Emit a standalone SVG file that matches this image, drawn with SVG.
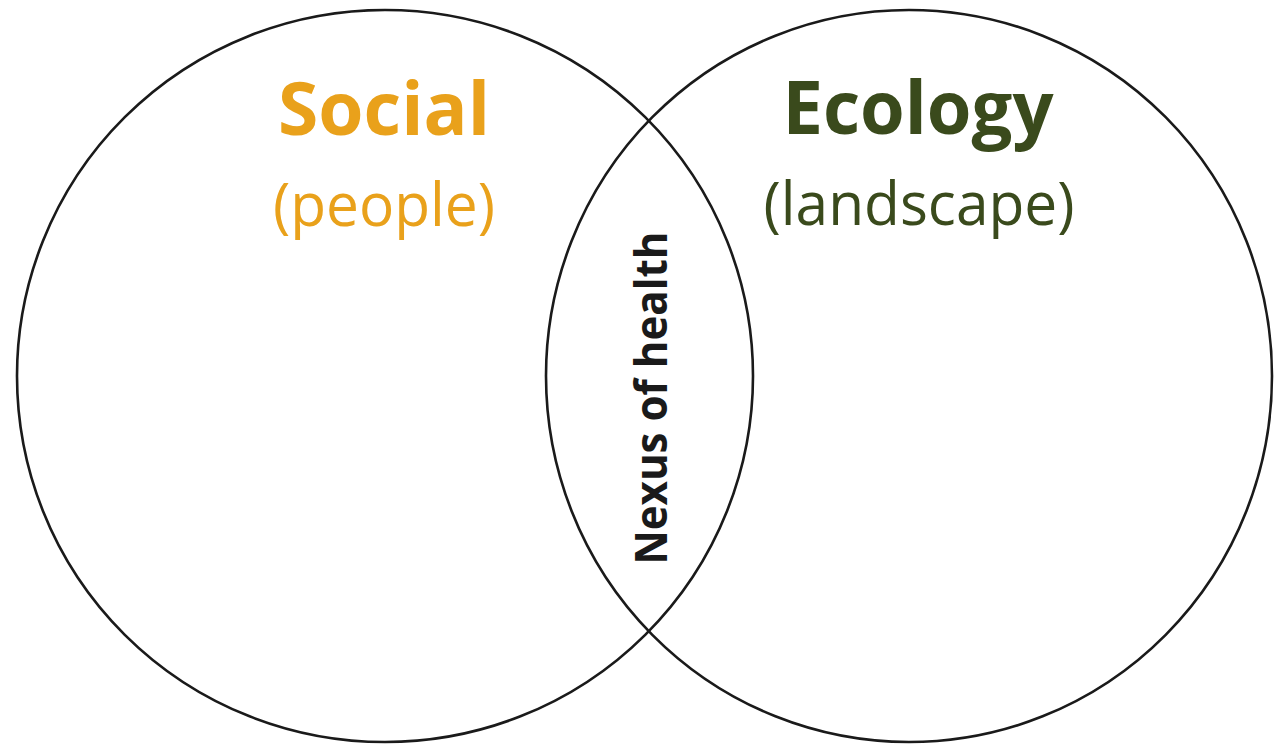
<svg xmlns="http://www.w3.org/2000/svg" width="1274" height="745" viewBox="0 0 1274 745">
  <style>
    .ring { fill: none; stroke: #1a1a1a; stroke-width: 2.6; }
    .title { font-family: "Open Sans", "Liberation Sans", sans-serif; font-weight: 700; text-anchor: middle; }
    .sub { font-family: "Open Sans", "Liberation Sans", sans-serif; font-weight: 400; text-anchor: middle; }
    .social { fill: #E9A11B; }
    .ecology { fill: #3A4A1C; }
    .nexus { font-family: "Open Sans", "Liberation Sans", sans-serif; font-weight: 700; fill: #1a1a1a; text-anchor: middle; }
  </style>
  <rect width="1274" height="745" fill="#ffffff"/>

  <g id="social">
    <ellipse class="ring" cx="385" cy="376" rx="368" ry="366"/>
    <text class="title social" x="384" y="135" font-size="74" textLength="212" lengthAdjust="spacingAndGlyphs">Social</text>
    <text class="sub social" x="384" y="226" font-size="60" textLength="222" lengthAdjust="spacingAndGlyphs">(people)</text>
  </g>

  <g id="ecology">
    <ellipse class="ring" cx="909" cy="376" rx="363" ry="366"/>
    <text class="title ecology" x="918" y="134" font-size="74" textLength="271" lengthAdjust="spacingAndGlyphs">Ecology</text>
    <text class="sub ecology" x="919" y="225" font-size="60" textLength="311" lengthAdjust="spacingAndGlyphs">(landscape)</text>
  </g>

  <g id="nexus">
    <text class="nexus" transform="translate(667 398) rotate(-90)" x="0" y="0" font-size="45" textLength="333" lengthAdjust="spacingAndGlyphs">Nexus of health</text>
  </g>

  <g id="connectors"></g>
</svg>
